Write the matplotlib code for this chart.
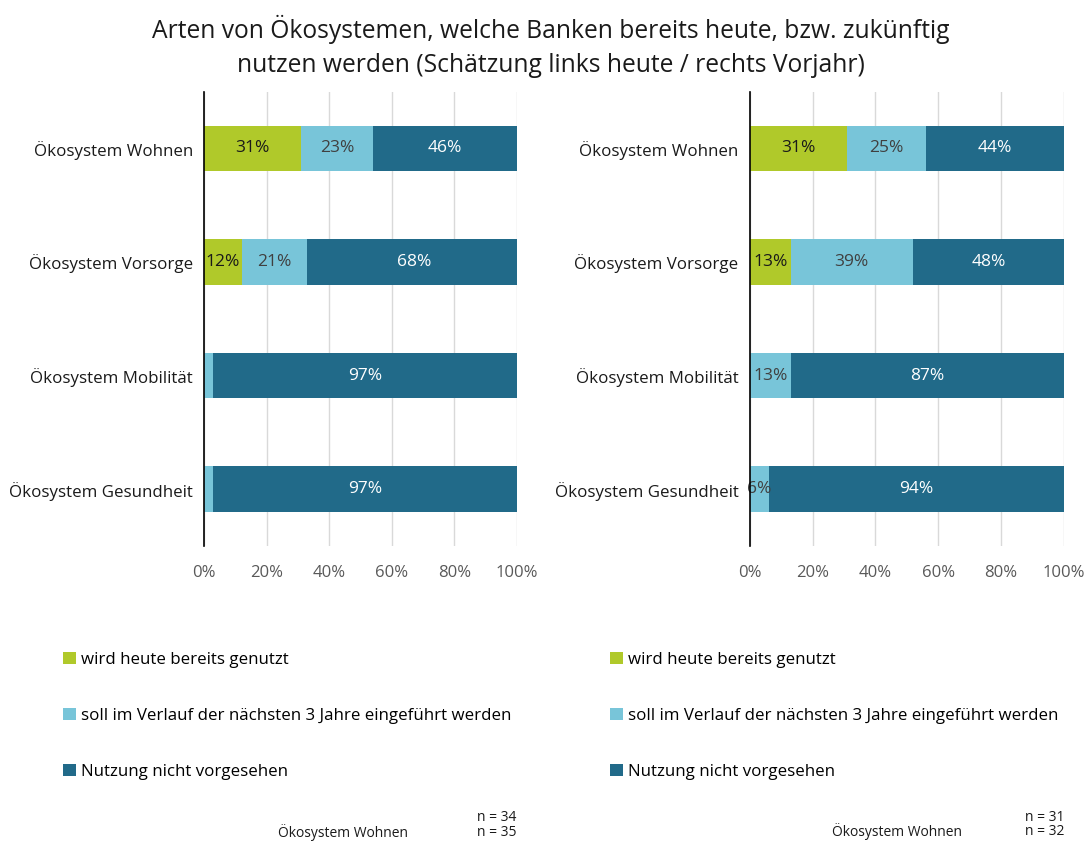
import matplotlib.pyplot as plt
import numpy as np

plt.rcParams["font.family"] = ["Open Sans", "DejaVu Sans"]

categories = [
    "Ökosystem Wohnen",
    "Ökosystem Vorsorge",
    "Ökosystem Mobilität",
    "Ökosystem Gesundheit",
]
series_names = [
    "wird heute bereits genutzt",
    "soll im Verlauf der nächsten 3 Jahre eingeführt werden",
    "Nutzung nicht vorgesehen",
]

# shares in percent, left = this year, right = previous year
today_used = [31, 12, 0, 0]
today_planned = [23, 21, 3, 3]
today_none = [46, 68, 97, 97]

prev_used = [31, 13, 0, 0]
prev_planned = [25, 39, 13, 6]
prev_none = [44, 48, 87, 94]

n_today = ["n = 34", "n = 35"]
n_prev = ["n = 31", "n = 32"]

colors = ["#B0C92A", "#78C5D9", "#216A89"]
text_colors = ["#1a1a1a", "#404040", "white"]
min_label = 5

fig = plt.figure(figsize=(10.85, 8.41), dpi=100)
fig.text(0.508, 0.945,
         "Arten von Ökosystemen, welche Banken bereits heute, bzw. zukünftig\n"
         "nutzen werden (Schätzung links heute / rechts Vorjahr)",
         ha="center", va="center", fontsize=17.7, color="#1a1a1a", linespacing=1.45)


def draw_panel(rect, data, legend_x):
    ax = fig.add_axes(rect)
    y = np.arange(len(categories))
    left = np.zeros(len(categories))
    handles = []
    for i, vals in enumerate(data):
        vals = np.array(vals, dtype=float)
        bars = ax.barh(y, vals / 100, left=left / 100, height=0.4,
                       color=colors[i], label=series_names[i], zorder=3)
        handles.append(bars)
        for j, v in enumerate(vals):
            if v >= min_label:
                ax.text((left[j] + v / 2) / 100, y[j], f"{int(v)}%",
                        ha="center", va="center", fontsize=12.5,
                        color=text_colors[i], zorder=4)
        left += vals
    ax.set_ylim(len(categories) - 0.5, -0.5)
    ax.set_xlim(0, 1)
    ax.set_yticks(y)
    ax.set_yticklabels(categories, fontsize=12.2, color="#1a1a1a")
    ax.set_xticks(np.linspace(0, 1, 6))
    ax.set_xticklabels([f"{int(t * 100)}%" for t in np.linspace(0, 1, 6)],
                       fontsize=12, color="#595959")
    ax.tick_params(length=0, pad=8)
    ax.tick_params(axis="x", pad=14)
    ax.grid(axis="x", color="#d9d9d9", linewidth=1, zorder=0)
    for s in ["top", "right", "bottom"]:
        ax.spines[s].set_visible(False)
    ax.spines["left"].set_color("black")
    ax.spines["left"].set_linewidth(1.2)
    ax.spines["left"].set_zorder(5)
    fig.legend(handles=handles, loc="upper left",
               bbox_to_anchor=(legend_x, 0.233), frameon=False,
               fontsize=12.2, handlelength=0.75, handleheight=0.75,
               handletextpad=0.3, labelspacing=2.35, borderaxespad=0)
    return ax


draw_panel([0.188, 0.351, 0.2885, 0.54], [today_used, today_planned, today_none], 0.052)
draw_panel([0.691, 0.351, 0.2894, 0.54], [prev_used, prev_planned, prev_none], 0.556)

# sample sizes below the legends
small = dict(ha="center", va="center", fontsize=10, color="#1a1a1a")
fig.text(0.458, 0.028, n_today[0], **small)
fig.text(0.458, 0.010, n_today[1], **small)
fig.text(0.316, 0.010, "Ökosystem Wohnen", **small)
fig.text(0.963, 0.028, n_prev[0], **small)
fig.text(0.963, 0.011, n_prev[1], **small)
fig.text(0.827, 0.011, "Ökosystem Wohnen", **small)

fig.savefig("out.png", dpi=100)
